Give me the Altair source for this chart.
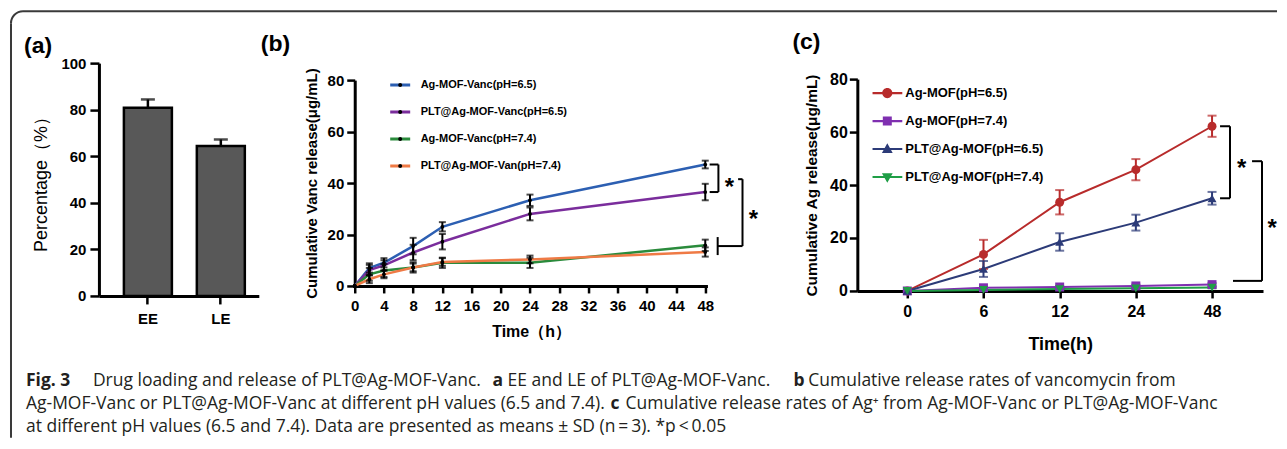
import altair as alt
import pandas as pd

# ---------------- data ----------------
# panel (a)
a_cats = ["EE", "LE"]
a_vals = [80.8, 64.4]
a_errs = [3.6, 2.8]

# panel (b)
b_time = [0, 2, 4, 8, 12, 24, 48]
b_series = ["Ag-MOF-Vanc(pH=6.5)", "PLT@Ag-MOF-Vanc(pH=6.5)",
            "Ag-MOF-Vanc(pH=7.4)", "PLT@Ag-MOF-Van(pH=7.4)"]
b_colors = ["#2c5fb2", "#7a2d9c", "#2a8b3c", "#ef7a45"]
b_blue = [0, 7.0, 9.0, 15.5, 23.0, 33.3, 47.2]
b_blue_err = [0, 1.8, 1.8, 3.2, 1.8, 2.2, 1.5]
b_purple = [0, 6.2, 8.0, 13.0, 17.2, 28.0, 36.5]
b_purple_err = [0, 2.0, 2.0, 3.0, 3.0, 2.5, 3.2]
b_green = [0, 4.5, 6.0, 7.2, 9.0, 9.0, 15.8]
b_green_err = [0, 2.5, 2.5, 2.0, 2.0, 2.0, 2.2]
b_orange = [0, 2.6, 4.5, 7.2, 9.3, 10.3, 13.2]
b_orange_err = [0, 1.5, 1.5, 1.5, 1.5, 1.5, 1.8]
b_ticks = list(range(0, 49, 4))

# panel (c)
c_time = ["0", "6", "12", "24", "48"]
c_series = ["Ag-MOF(pH=6.5)", "Ag-MOF(pH=7.4)", "PLT@Ag-MOF(pH=6.5)", "PLT@Ag-MOF(pH=7.4)"]
c_colors = ["#b82b2b", "#7f2fb0", "#2c3b78", "#1f9e46"]
c_shapes = ["circle", "square", "triangle-up", "triangle-down"]
c_red = [0, 13.8, 33.5, 45.8, 62.2]
c_red_err = [0, 5.5, 4.6, 4.0, 4.0]
c_purple = [0, 1.2, 1.5, 1.9, 2.4]
c_purple_err = [0, 0.4, 0.4, 0.5, 0.6]
c_navy = [0, 8.3, 18.5, 25.8, 35.0]
c_navy_err = [0, 3.0, 3.3, 3.0, 2.4]
c_green = [0, 0.4, 0.7, 1.0, 1.3]
c_green_err = [0, 0.2, 0.2, 0.3, 0.3]

# significance brackets (data units): x1, x2, y1, y2
b_brackets = [(48.6, 49.8, 47.2, 47.2), (48.6, 49.8, 36.5, 36.5), (49.8, 49.8, 47.2, 36.5),
              (52.5, 53.1, 41.5, 41.5), (53.1, 53.1, 41.5, 15.5), (49.7, 53.1, 15.5, 15.5),
              (49.7, 49.7, 19.0, 12.0)]
b_stars = [(51.3, 40.4), (54.6, 28.0)]
c_brackets = [(4.105, 4.236, 62.2, 62.2), (4.105, 4.236, 35.0, 35.0), (4.236, 4.236, 62.2, 35.0),
              (4.525, 4.656, 49.0, 49.0), (4.656, 4.656, 49.0, 3.8), (4.275, 4.656, 3.8, 3.8)]
c_stars = [(4.39, 48.3), (4.79, 25.7)]

# caption segments: text, left x (page px), line, bold
caption = [
    ("Fig. 3", 25, 0, True),
    ("Drug loading and release of PLT@Ag-MOF-Vanc.", 92, 0, False),
    ("a", 492, 0, True),
    ("EE and LE of PLT@Ag-MOF-Vanc.", 507, 0, False),
    ("b", 793, 0, True),
    ("Cumulative release rates of vancomycin from", 808, 0, False),
    ("Ag-MOF-Vanc or PLT@Ag-MOF-Vanc at different pH values (6.5 and 7.4).", 25, 1, False),
    ("c", 610, 1, True),
    ("Cumulative release rates of Ag\u207a from Ag-MOF-Vanc or PLT@Ag-MOF-Vanc", 625, 1, False),
    ("at different pH values (6.5 and 7.4). Data are presented as means \u00b1 SD (n\u2009=\u20093). *p\u2009<\u20090.05", 25, 2, False),
]
caption_lines_y = [380, 403, 426]

# ---------------- layout constants ----------------
A_LEFT, B_LEFT, C_LEFT, TOP = 98, 354, 857, 62
FONT = "Liberation Sans"
one = pd.DataFrame({"k": [0]})

# ---------------- panel (a) ----------------
a_df = pd.DataFrame({"cat": a_cats, "val": a_vals, "err": a_errs})
a_df["hi"] = a_df["val"] + a_df["err"]

a_x = alt.X("cat:N", sort=a_cats,
            scale=alt.Scale(paddingInner=0.342, paddingOuter=0.267, align=0.641),
            axis=alt.Axis(title=None, labelAngle=0, labelFontSize=15, tickSize=8, labelPadding=8))
a_y = alt.Y("val:Q", scale=alt.Scale(domain=[0, 100], nice=False),
            axis=alt.Axis(values=[0, 20, 40, 60, 80, 100], tickCount=20, title="Percentage（%）",
                          titleFontSize=18, titleFontWeight="normal", labelFontSize=15,
                          tickSize=9, labelPadding=4, titlePadding=10))

a_bar = alt.Chart(a_df).mark_bar(fill="#585858", stroke="black", strokeWidth=2.5).encode(x=a_x, y=a_y)
a_err = alt.Chart(a_df).mark_rule(color="black", strokeWidth=2.5).encode(
    x=alt.X("cat:N", sort=a_cats), y="hi:Q", y2="val:Q")
a_cap = alt.Chart(a_df).mark_tick(orient="horizontal", color="black", size=14, thickness=2.5).encode(
    x=alt.X("cat:N", sort=a_cats), y="hi:Q")

FR = "#3a3a3a"
fx, fy = 10 - A_LEFT, 10 - TOP
frame_left = alt.Chart(one).mark_rule(color=FR, strokeWidth=2).encode(
    x=alt.value(fx), y=alt.value(fy + 12), y2=alt.value(437 - TOP))
frame_top = alt.Chart(one).mark_rule(color=FR, strokeWidth=2).encode(
    x=alt.value(fx + 12), x2=alt.value(1277 - A_LEFT), y=alt.value(fy))
frame_arc = alt.Chart(one).mark_arc(color=FR, innerRadius=11, outerRadius=13,
                                    theta=4.712389, theta2=6.283185).encode(
    x=alt.value(fx + 12), y=alt.value(fy + 12))

def panel_label(txt, page_x, page_y, left):
    return alt.Chart(one).mark_text(text=txt, font=FONT, fontSize=23, fontWeight="bold",
                                    align="left", baseline="middle", color="black").encode(
        x=alt.value(page_x - left), y=alt.value(page_y - TOP))

cap_layers = []
for txt, px, ln, bold in caption:
    cap_layers.append(
        alt.Chart(one).mark_text(text=txt, font="Open Sans", fontSize=17.5,
                                 fontWeight="bold" if bold else "normal",
                                 align="left", baseline="middle", color="#231f20").encode(
            x=alt.value(px - A_LEFT), y=alt.value(caption_lines_y[ln] - TOP)))

panel_a = alt.layer(a_bar, a_err, a_cap, frame_left, frame_top, frame_arc,
                    panel_label("(a)", 23, 45, A_LEFT), *cap_layers).properties(width=160, height=233)

# ---------------- panel (b) ----------------
rows = []
for s, vals, errs in zip(b_series, [b_blue, b_purple, b_green, b_orange],
                         [b_blue_err, b_purple_err, b_green_err, b_orange_err]):
    for t, v, e in zip(b_time, vals, errs):
        rows.append({"series": s, "t": t, "v": v, "e": e, "lo": v - e, "hi": v + e})
b_df = pd.DataFrame(rows)
b_err_df = b_df[b_df["e"] > 0]
b_cap_df = pd.concat([b_err_df.assign(c=b_err_df["lo"]), b_err_df.assign(c=b_err_df["hi"])])

b_x = alt.X("t:Q", scale=alt.Scale(domain=[0, 48.3], range=[0, 353], nice=False),
            axis=alt.Axis(values=b_ticks, tickCount=40, title="Time（h）", titleFontSize=16,
                          labelFontSize=15, tickSize=7, labelPadding=6, titlePadding=10,
                          labelFlush=False, labelOverlap=False))
b_y = alt.Y("v:Q", scale=alt.Scale(domain=[0, 80], range=[223, 17], nice=False),
            axis=alt.Axis(values=[0, 20, 40, 60, 80], tickCount=20,
                          title="Cumulative Vanc release(μg/mL)",
                          titleFontSize=15, labelFontSize=15, tickSize=8, labelPadding=3,
                          titlePadding=8))

b_leg_common = dict(title=None, orient="none", legendX=34, legendY=14, symbolSize=400,
                    symbolStrokeWidth=3, labelFontSize=11, labelOffset=9, rowPadding=11,
                    clipHeight=16)

b_line = alt.Chart(b_df).mark_line(strokeWidth=2.5).encode(
    x=b_x, y=b_y,
    color=alt.Color("series:N", sort=b_series, scale=alt.Scale(domain=b_series, range=b_colors),
                    legend=alt.Legend(symbolType="stroke", **b_leg_common)))
b_err = alt.Chart(b_err_df).mark_rule(color="black", strokeWidth=2).encode(
    x="t:Q", y="lo:Q", y2="hi:Q")
b_cap = alt.Chart(b_cap_df).mark_tick(orient="horizontal", color="black", size=7, thickness=2).encode(
    x="t:Q", y="c:Q")
b_pts = alt.Chart(b_df).mark_circle(size=14, color="black", opacity=1).encode(x="t:Q", y="v:Q")

DOT = "M-0.2,0A0.2,0.2 0 1,1 0.2,0A0.2,0.2 0 1,1 -0.2,0Z"
b_dot_df = pd.DataFrame({"series_dot": b_series, "t": [0] * 4, "v": [1000] * 4})
b_dot_leg = alt.Chart(b_dot_df).mark_point(filled=True, color="black", size=400, clip=True, opacity=1).encode(
    x="t:Q", y="v:Q",
    shape=alt.Shape("series_dot:N", sort=b_series, scale=alt.Scale(range=[DOT] * 4),
                    legend=alt.Legend(labelOpacity=0, **b_leg_common)))

b_br_df = pd.DataFrame(b_brackets, columns=["x1", "x2", "y1", "y2"])
b_br = alt.Chart(b_br_df).mark_rule(color="black", strokeWidth=2).encode(
    x="x1:Q", x2="x2:Q", y="y1:Q", y2="y2:Q")
b_st_df = pd.DataFrame(b_stars, columns=["x", "y"])
b_st = alt.Chart(b_st_df).mark_text(text="*", font=FONT, fontSize=24, fontWeight="bold",
                                    baseline="middle", dy=6, color="black").encode(x="x:Q", y="y:Q")

panel_b = alt.layer(b_line, b_err, b_cap, b_pts, b_dot_leg, b_br, b_st,
                    panel_label("(b)", 260, 43, B_LEFT)).properties(width=407, height=223)

# ---------------- panel (c) ----------------
rows = []
for s, vals, errs in zip(c_series, [c_red, c_purple, c_navy, c_green],
                         [c_red_err, c_purple_err, c_navy_err, c_green_err]):
    for i, (v, e) in enumerate(zip(vals, errs)):
        rows.append({"series": s, "i": i, "v": v, "e": e, "lo": v - e, "hi": v + e})
c_df = pd.DataFrame(rows)
c_err_df = c_df[c_df["e"] > 0]
c_cap_df = pd.concat([c_err_df.assign(c=c_err_df["lo"]), c_err_df.assign(c=c_err_df["hi"])])

label_expr = "[" + ",".join("'%s'" % t for t in c_time) + "][datum.value]"
c_x = alt.X("i:Q", scale=alt.Scale(domain=[-0.656, 4.669], nice=False, zero=False),
            axis=alt.Axis(values=list(range(len(c_time))), tickCount=20, labelExpr=label_expr,
                          title="Time(h)", titleFontSize=18, labelFontSize=16, tickSize=7,
                          labelPadding=6, titlePadding=16, labelFlush=False))
c_y = alt.Y("v:Q", scale=alt.Scale(domain=[0, 80], range=[228, 16], nice=False),
            axis=alt.Axis(values=[0, 20, 40, 60, 80], tickCount=20,
                          title="Cumulative Ag release(μg/mL)",
                          titleFontSize=15.5, labelFontSize=16, tickSize=8, labelPadding=2,
                          titlePadding=10))
c_color = alt.Color("series:N", scale=alt.Scale(domain=c_series, range=c_colors), legend=None)

c_line = alt.Chart(c_df).mark_line(strokeWidth=2).encode(x=c_x, y=c_y, color=c_color)
c_err = alt.Chart(c_err_df).mark_rule(strokeWidth=2).encode(x="i:Q", y="lo:Q", y2="hi:Q", color=c_color)
c_cap = alt.Chart(c_cap_df).mark_tick(orient="horizontal", size=9, thickness=2).encode(
    x="i:Q", y="c:Q", color=c_color)
c_pts = [alt.Chart(c_df[c_df["series"] == s]).mark_point(shape=shp, filled=True, size=80,
                                                         color=col, opacity=1).encode(x="i:Q", y="v:Q")
         for s, shp, col in zip(c_series, c_shapes, c_colors)]

LINE = "M-1,-0.07L1,-0.07L1,0.07L-1,0.07Z"
c_leg_paths = [
    LINE + "M-0.34,0A0.34,0.34 0 1,1 0.34,0A0.34,0.34 0 1,1 -0.34,0Z",
    LINE + "M-0.3,-0.3L0.3,-0.3L0.3,0.3L-0.3,0.3Z",
    LINE + "M0,-0.38L0.36,0.26L-0.36,0.26Z",
    LINE + "M0,0.38L-0.36,-0.26L0.36,-0.26Z",
]
# one single-entry legend per series, stacked 28 px apart
c_legs = []
for k, (s, col, path) in enumerate(zip(c_series, c_colors, c_leg_paths)):
    leg_df = pd.DataFrame({"series_leg": [s], "i": [0], "v": [1000]})
    c_legs.append(
        alt.Chart(leg_df).mark_point(filled=True, color=col, size=900, clip=True, opacity=1).encode(
            x="i:Q", y="v:Q",
            shape=alt.Shape("series_leg:N", scale=alt.Scale(range=[path]),
                            legend=alt.Legend(title=None, orient="none", legendX=15,
                                              legendY=22 + 28 * k, symbolSize=900,
                                              symbolStrokeWidth=0, labelFontSize=13,
                                              labelOffset=3, clipHeight=16))))

c_br_df = pd.DataFrame(c_brackets, columns=["x1", "x2", "y1", "y2"])
c_br = alt.Chart(c_br_df).mark_rule(color="black", strokeWidth=2).encode(
    x="x1:Q", x2="x2:Q", y="y1:Q", y2="y2:Q")
c_st_df = pd.DataFrame(c_stars, columns=["x", "y"])
c_st = alt.Chart(c_st_df).mark_text(text="*", font=FONT, fontSize=24, fontWeight="bold",
                                    baseline="middle", dy=6, color="black").encode(x="x:Q", y="y:Q")

panel_c = alt.layer(c_line, c_err, c_cap, *c_pts, *c_legs, c_br, c_st,
                    panel_label("(c)", 792, 41, C_LEFT)).resolve_scale(
    shape="independent").resolve_legend(shape="independent").properties(width=406, height=228)

# ---------------- assemble ----------------
chart = alt.hconcat(panel_a, panel_b, panel_c, spacing=96, bounds="flush").resolve_scale(
    color="independent", shape="independent"
).resolve_legend(
    color="independent", shape="independent"
).properties(
    padding={"left": 1, "top": 1, "right": 0, "bottom": 0}
).configure_view(stroke="transparent").configure_axis(
    domainColor="black", tickColor="black", labelColor="black", titleColor="black",
    labelFont=FONT, titleFont=FONT, labelFontWeight="bold", titleFontWeight="bold",
    grid=False, domainWidth=3, tickWidth=2.5
).configure_legend(labelFont=FONT, labelFontWeight="bold", labelColor="black", padding=0)

chart.save("out.html", embed_options={"renderer": "svg", "actions": False})
